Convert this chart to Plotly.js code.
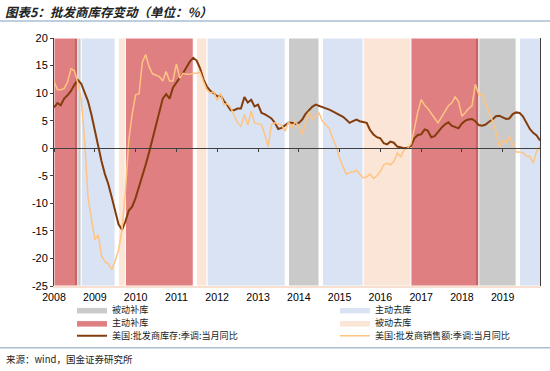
<!DOCTYPE html>
<html><head><meta charset="utf-8">
<script src="https://cdn.plot.ly/plotly-3.0.1.min.js"></script>
<style>html,body{margin:0;padding:0;background:#fff}#chart{width:550px;height:371px}</style>
</head><body><div id="chart"></div>
<script>
// ---------- data ----------
const firstMonth = [2008, 1];
const inventoryYoY = [
  7.4, 8.2, 7.8, 9.0, 9.6, 10.4, 11.5, 12.4, 11.7, 10.0, 8.5, 6.1,
  3.2, 0.0, -2.3, -4.7, -6.5, -8.9, -11.4, -13.8, -14.8, -13.3, -11.3, -10.6,
  -9.0, -7.0, -5.3, -3.0, -0.8, 1.8, 4.3, 6.7, 9.0, 9.8, 9.0, 11.0,
  12.0, 12.8, 13.6, 14.6, 15.7, 16.4, 15.9, 14.5, 12.5, 11.2, 10.4, 10.0,
  9.4, 9.6, 8.6, 7.8, 6.9, 6.9, 7.2, 7.2, 9.3, 8.3, 8.8, 7.6,
  7.9, 6.4, 6.2, 5.8, 5.4, 4.6, 3.5, 3.7, 4.1, 4.6, 4.6, 4.4,
  4.6, 5.2, 6.2, 6.9, 7.5, 7.9, 7.7, 7.5, 7.2, 7.0, 6.7, 6.4,
  6.1, 5.7, 5.2, 4.6, 4.9, 5.2, 4.9, 4.7, 4.6, 3.3, 2.5, 2.0,
  1.8, 0.9, 0.7, 1.2, 1.0, 0.3, 0.1, 0.0, 0.1, 0.4, 1.8, 2.4,
  2.5, 3.4, 3.2, 2.0, 2.2, 3.0, 3.7, 4.3, 4.7, 4.1, 3.8, 3.6,
  4.5, 5.0, 5.2, 5.3, 4.9, 4.2, 4.1, 4.3, 4.8, 5.2, 5.8, 5.9,
  5.6, 5.3, 5.4, 6.2, 6.5, 6.4, 5.8, 4.5, 3.5, 2.8, 2.3, 1.4
];
const salesYoY = [
  12.2, 10.6, 10.6, 10.8, 12.0, 14.4, 14.1, 11.8, 8.8, 1.5, -9.0, -12.5,
  -16.6, -15.7, -19.5, -20.6, -21.0, -22.0, -20.5, -18.5, -14.8, -8.0, 1.5, 6.2,
  9.7, 9.9, 15.5, 17.0, 14.8, 13.5, 13.2, 13.0, 12.2, 13.9, 12.2, 12.2,
  15.3, 12.7, 13.6, 13.4, 13.4, 13.6, 13.6, 13.8, 12.1, 10.6, 10.0, 10.3,
  8.7, 10.0, 7.9, 8.1, 7.4, 5.8, 4.6, 4.0, 6.1, 4.2, 6.7, 4.6,
  4.4, 4.3, 2.6, 0.3, 4.3, 4.6, 4.4, 4.2, 3.1, 4.8, 3.7, 4.8,
  4.0, 2.5, 4.6, 6.6, 5.2, 5.8, 6.4, 4.9, 4.3, 3.6, 1.8, 0.3,
  -1.8, -3.5, -4.7, -4.4, -4.3, -4.0, -4.6, -5.4, -5.2, -4.7, -5.5, -5.0,
  -4.2, -3.0, -2.7, -3.0, -2.4, -0.9, -1.5, -0.3, 0.0, 0.8, 3.5, 6.5,
  8.8, 7.8, 7.2, 6.3, 5.5, 4.6, 5.6, 6.6, 7.7, 8.2, 9.3, 8.5,
  5.8, 6.5, 7.2, 7.7, 11.6, 9.7, 9.9, 8.0, 6.4, 5.0, 3.0, 0.3,
  1.4, 1.0, 2.1, 0.6, -0.7, -0.7, -0.8, -1.4, -1.5, -2.7, -0.5, 0.3
];
const seriesNames = ['美国:批发商库存:季调:当月同比', '美国:批发商销售额:季调:当月同比'];
const regimeNames = ['被动补库', '主动去库', '主动补库', '被动去库'];
// regime periods: [start, end) by month
const passiveRestockStart = ['2008-07-01', '2013-10-01', '2018-05-01'];
const passiveRestockEnd   = ['2008-09-01', '2014-07-01', '2019-05-01'];
const activeDestockStart  = ['2008-09-01', '2011-10-01', '2014-08-01', '2019-06-01'];
const activeDestockEnd    = ['2009-07-01', '2013-09-01', '2015-08-01', '2020-01-01'];
const activeRestockStart  = ['2008-01-01', '2009-10-01', '2016-10-01'];
const activeRestockEnd    = ['2008-08-01', '2011-06-01', '2018-06-01'];
const passiveDestockStart = ['2009-08-01', '2011-07-01', '2015-08-01'];
const passiveDestockEnd   = ['2009-10-01', '2011-10-01', '2016-10-01'];
const yTickVals = [20, 15, 10, 5, 0, -5, -10, -15, -20, -25];
const yTickText = ['20', '15', '10', '5', '0', '-5', '-10', '-15', '-20', '-25'];
const xRange = ['2008-01-01', '2019-12-01'];
const yRange = [-25, 20];
const titleText = '图表5：批发商库存变动（单位：%）';
const sourceText = '来源：wind，国金证券研究所';

// ---------- build ----------
const months = inventoryYoY.map((_, i) => {
  const t = (firstMonth[0] * 12 + firstMonth[1] - 1) + i;
  const y = Math.floor(t / 12), m = t % 12 + 1;
  return y + '-' + String(m).padStart(2, '0') + '-01';
});
function blocks(starts, ends) {
  const x = [], y = [];
  starts.forEach((s, i) => { x.push(s, s, ends[i], ends[i], s, null); y.push(0, 1, 1, 0, 0, null); });
  return { x, y };
}
const W = 550, H = 371, M = { l: 54, r: 10, t: 38, b: 85 };
const pw = W - M.l - M.r, ph = H - M.t - M.b;
const px = v => (v - M.l) / pw, py = v => (H - M.b - v) / ph;

const CJK = '"Noto Sans CJK SC", "Noto Sans", sans-serif';
const LAT = '"Liberation Sans", Arial, sans-serif';
const legendFont = { family: CJK, size: 9.1, color: '#222' };

function regime(name, b, fill, legend, rank, lw) {
  return {
    type: 'scatter', mode: 'lines', x: b.x, y: b.y, xaxis: 'x', yaxis: 'y',
    fill: 'toself', fillcolor: fill, line: { color: '#ffffff', width: 1 },
    name: name, legend: legend, legendrank: rank, legendwidth: lw, hoverinfo: 'skip'
  };
}
const traces = [
  regime(regimeNames[0], blocks(passiveRestockStart, passiveRestockEnd), 'rgba(150,150,150,0.5)', 'legend', 1, 218),
  regime(regimeNames[1], blocks(activeDestockStart, activeDestockEnd), '#DAE3F3', 'legend', 2, 165),
  regime(regimeNames[3], blocks(passiveDestockStart, passiveDestockEnd), '#FBE5D6', 'legend2', 4, 165),
  regime(regimeNames[2], blocks(activeRestockStart, activeRestockEnd), 'rgba(192,0,6,0.5)', 'legend2', 3, 218),
  { type: 'scatter', mode: 'lines', x: months, y: inventoryYoY, xaxis: 'x2', yaxis: 'y2',
    line: { color: '#843C0C', width: 2 }, name: seriesNames[0], legend: 'legend3', legendrank: 5, legendwidth: 218 },
  { type: 'scatter', mode: 'lines', x: months, y: salesYoY, xaxis: 'x2', yaxis: 'y2',
    line: { color: '#FFC382', width: 1.5 }, name: seriesNames[1], legend: 'legend3', legendrank: 6, legendwidth: 165 }
];

function leg(yPix) {
  return { orientation: 'h', xref: 'container', yref: 'container', x: 72 / W, xanchor: 'left',
    y: 1 - yPix / H, yanchor: 'middle',
    entrywidthmode: 'pixels', font: legendFont, bgcolor: 'rgba(0,0,0,0)', borderwidth: 0,
    itemclick: false, itemdoubleclick: false, traceorder: 'normal', itemwidth: 30 };
}

const layout = {
  width: W, height: H, margin: Object.assign({ autoexpand: false }, M),
  paper_bgcolor: '#fff', plot_bgcolor: '#fff',
  showlegend: true, hovermode: false,
  title: { text: titleText, xref: 'container', x: 5 / W, xanchor: 'left', yref: 'container',
    y: 1 - 13 / H, yanchor: 'middle',
    font: { family: CJK, size: 12.5, color: '#222', weight: 700, style: 'italic' } },
  xaxis: { type: 'date', range: xRange, anchor: 'y', tick0: '2008-01-01', dtick: 'M12', tickformat: '%Y',
    ticks: '', showgrid: false, zeroline: false, showline: true, linecolor: '#F9DFCF', linewidth: 2,
    tickfont: { family: LAT, size: 10.6, color: '#000' }, ticklabelstandoff: 0 },
  yaxis: { range: [0, 1], visible: false, fixedrange: true },
  xaxis2: { type: 'date', range: xRange, overlaying: 'x', anchor: 'free',
    position: (0 - yRange[0]) / (yRange[1] - yRange[0]), side: 'bottom',
    tick0: '2008-01-01', dtick: 'M12', ticks: 'outside', ticklen: 3, tickcolor: '#404040',
    showticklabels: false, showgrid: false, zeroline: false, showline: true,
    linecolor: '#404040', linewidth: 1, layer: 'above traces' },
  yaxis2: { range: yRange, overlaying: 'y', anchor: 'x', side: 'left', tickvals: yTickVals, ticktext: yTickText,
    ticks: 'outside', ticklen: 3, tickcolor: '#404040', showline: true, mirror: true,
    linecolor: '#404040', linewidth: 1, showgrid: false, zeroline: false,
    tickfont: { family: LAT, size: 11, color: '#000' } },
  legend: leg(309.4),
  legend2: leg(322.6),
  legend3: leg(335.8),
  shapes: [
    { type: 'line', xref: 'paper', yref: 'paper', x0: px(0), x1: px(W), y0: py(21), y1: py(21),
      line: { color: '#A9BED3', width: 1.5 } },
    { type: 'line', xref: 'paper', yref: 'paper', x0: px(0), x1: px(W), y0: py(347.7), y1: py(347.7),
      line: { color: '#A9BED3', width: 1.5 } }
  ],
  annotations: [
    { text: sourceText, xref: 'paper', yref: 'paper', x: px(4), y: py(358.5), xanchor: 'left', yanchor: 'middle',
      showarrow: false, font: { family: CJK, size: 9.5, color: '#222' } }
  ]
};
Plotly.newPlot('chart', traces, layout, { staticPlot: true, displayModeBar: false });
</script></body></html>
